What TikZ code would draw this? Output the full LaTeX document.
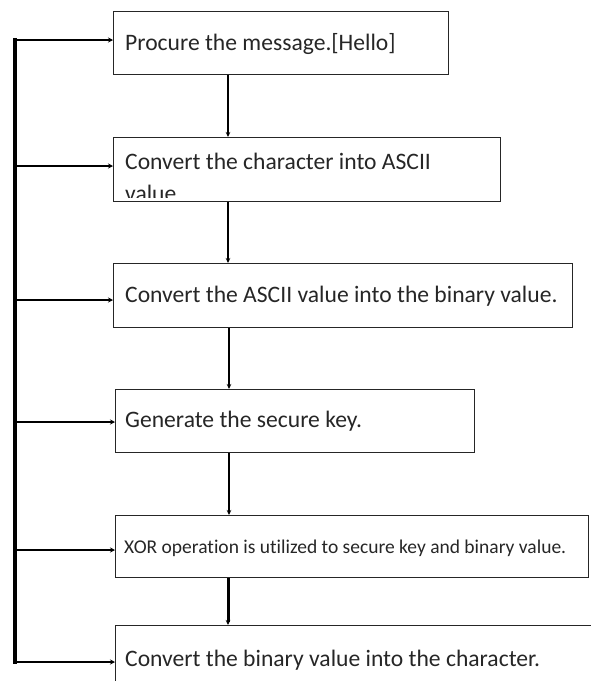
\documentclass[tikz,border=0pt]{standalone}
\usepackage{fontspec}
\setmainfont{Carlito}[Ligatures=NoCommon]
\usetikzlibrary{arrows.meta}
\begin{document}
\begin{tikzpicture}[x=1pt,y=1pt,
  box/.style={draw=black!85, line width=1.4pt, rectangle, anchor=north west, inner sep=0pt},
  txt/.style={anchor=west, inner sep=0pt, font=\fontsize{23.6}{28}\selectfont, text=black!85},
  flow/.style={line width=2.2pt, -{Stealth[length=5pt,width=4.5pt]}},
  feed/.style={line width=2.6pt, -{Stealth[length=5pt,width=5pt]}},
  bar/.style={line width=3.8pt}]
\useasboundingbox (0,0) rectangle (591,-681);
% boxes
\node[box, minimum width=335pt, minimum height=63pt] (b1) at (113,-11) {};
\node[box, minimum width=387pt, minimum height=64pt] (b2) at (113,-137) {};
\node[box, minimum width=459pt, minimum height=64pt] (b3) at (113,-263) {};
\node[box, minimum width=359pt, minimum height=63pt] (b4) at (115,-389) {};
\node[box, minimum width=473pt, minimum height=62pt] (b5) at (115,-515) {};
\node[box, minimum width=490pt, minimum height=80pt] (b6) at (115,-625) {};
% texts
\node[txt] (t1) at (125,-44) {Procure the message.[Hello]};
\begin{scope}
\clip (114,-138) rectangle (499,-197);
\node[txt] (t2a) at (125,-161) {Convert the character into ASCII};
\node[txt] (t2b) at (125,-193) {value};
\end{scope}
\node[txt] (t3) at (125,-296) {Convert the ASCII value into the binary value.};
\node[txt] (t4) at (125,-421) {Generate the secure key.};
\node[txt, font=\fontsize{19.5}{23}\selectfont] (t5) at (124,-548) {XOR operation is utilized to secure key and binary value.};
\node[txt] (t6) at (125,-660) {Convert the binary value into the character.};
% vertical flow
\draw[flow] (b1.south -| 228,0) -- (b2.north -| 228,0);
\draw[flow] (b2.south -| 228,0) -- (b3.north -| 228,0);
\draw[flow] (b3.south -| 229,0) -- (b4.north -| 229,0);
\draw[flow] (b4.south -| 229,0) -- (b5.north -| 229,0);
\draw[flow, line width=3pt] (b5.south -| 228,0) -- (b6.north -| 228,0);
% feedback bar
\coordinate (top) at (15,-40);
\coordinate (bot) at (15,-662);
\draw[bar] ([yshift=1.9pt]top) -- ([yshift=-1.9pt]bot);
\draw[feed] (top) -- (top -| b1.west);
\draw[feed] (15,-166) -- (b2.west |- 0,-166);
\draw[feed] (15,-300) -- (b3.west |- 0,-300);
\draw[feed] (15,-422) -- (b4.west |- 0,-422);
\draw[feed] (15,-550) -- (b5.west |- 0,-550);
\draw[feed] (bot) -- (bot -| b6.west);
\end{tikzpicture}
\end{document}
